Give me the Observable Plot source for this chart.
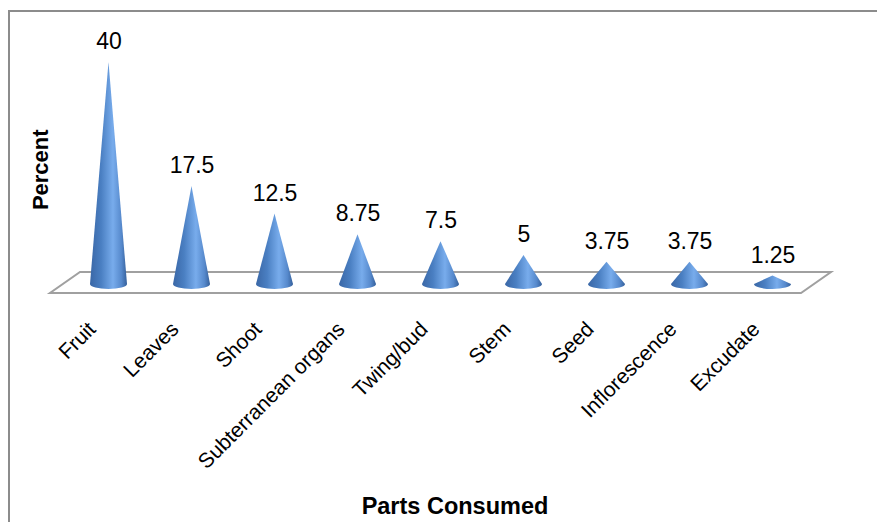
<!DOCTYPE html>
<html>
<head>
<meta charset="utf-8">
<script src="https://cdn.jsdelivr.net/npm/d3@7"></script>
<script src="https://cdn.jsdelivr.net/npm/@observablehq/plot@0.6"></script>
<style>
  html, body { margin: 0; padding: 0; background: #fff; overflow: hidden; }
  #wrap { position: relative; width: 877px; height: 522px; overflow: hidden; }
  #frame { position: absolute; left: 8px; top: 10px; width: 1000px; height: 1000px;
           border-left: 2px solid #8c8c8c; border-top: 2px solid #8c8c8c; box-sizing: border-box; }
  #chart { position: absolute; left: 0; top: 0; }
</style>
</head>
<body>
<div id="wrap"><div id="frame"></div><div id="chart"></div></div>
<script>
const parts = ["Fruit", "Leaves", "Shoot", "Subterranean organs", "Twing/bud", "Stem", "Seed", "Inflorescence", "Excudate"];
const percents = [40, 17.5, 12.5, 8.75, 7.5, 5, 3.75, 3.75, 1.25];
const valueLabels = ["40", "17.5", "12.5", "8.75", "7.5", "5", "3.75", "3.75", "1.25"];
const yLabel = "Percent";
const xLabel = "Parts Consumed";

const data = parts.map((p, i) => ({part: p, value: percents[i], label: valueLabels[i]}));

const font = "'Liberation Sans', Arial, Helvetica, sans-serif";

function conesRender(index, scales, values, dimensions) {
  const g = d3.create("svg:g");
  const defs = g.append("defs");
  const grad = defs.append("linearGradient").attr("id", "coneGrad")
    .attr("x1", "0").attr("x2", "1").attr("y1", "0").attr("y2", "0");
  [[0, "#3a67a6"], [0.3, "#4a7fc2"], [0.62, "#78acec"], [0.85, "#5689cc"], [1, "#35609b"]]
    .forEach(([o, c]) => grad.append("stop").attr("offset", o).attr("stop-color", c));
  const bw = scales.x.bandwidth ? scales.x.bandwidth() : 0;
  const y0 = scales.y(0);
  const left = dimensions.marginLeft;
  const right = dimensions.width - dimensions.marginRight;
  const ddx = 15, ddy = 10.5;
  g.append("path")
    .attr("d", `M${left + ddx},${y0 - ddy}L${right + ddx},${y0 - ddy}L${right - ddx},${y0 + ddy}L${left - ddx},${y0 + ddy}Z`)
    .attr("fill", "#fff").attr("stroke", "#a0a0a0").attr("stroke-width", 2);
  const rx = 18.5, ry = 5;
  for (const i of index) {
    const cx = values.x[i] + bw / 2;
    const ty = values.y[i];
    const by = y0 + 1.5;
    g.append("path")
      .attr("d", `M${cx - rx},${by}L${cx},${ty}L${cx + rx},${by}A${rx},${ry} 0 0 1 ${cx - rx},${by}Z`)
      .attr("fill", "url(#coneGrad)");
  }
  return g.node();
}

const plot = Plot.plot({
  width: 877,
  height: 522,
  marginLeft: 65,
  marginRight: 61,
  marginTop: 62,
  marginBottom: 239.5,
  style: {fontFamily: font, background: "transparent", color: "#000"},
  x: {type: "band", domain: parts, padding: 0, axis: null},
  y: {domain: [0, 40], axis: null},
  marks: [
    Plot.dot(data, {x: "part", y: "value", render: conesRender}),
    Plot.text(data, {x: "part", y: "value", text: "label", dy: -13.5, lineAnchor: "bottom", fontSize: 23, fill: "#000"}),
    Plot.text(parts, {x: d => d, frameAnchor: "bottom", text: d => d, rotate: -45, textAnchor: "end", lineAnchor: "bottom", dx: -12, dy: 47.5, fontSize: 21, fill: "#000"}),
    Plot.text([yLabel], {frameAnchor: "left", text: d => d, rotate: -90, textAnchor: "middle", lineAnchor: "middle", dx: -25, dy: -3, fontSize: 22, fontWeight: "bold", fill: "#000"}),
    Plot.text([xLabel], {frameAnchor: "bottom", text: d => d, textAnchor: "middle", dx: 14, dy: 230.5, lineAnchor: "bottom", fontSize: 23.5, fontWeight: "bold", fill: "#000"})
  ]
});
document.getElementById("chart").appendChild(plot);
</script>
</body>
</html>
